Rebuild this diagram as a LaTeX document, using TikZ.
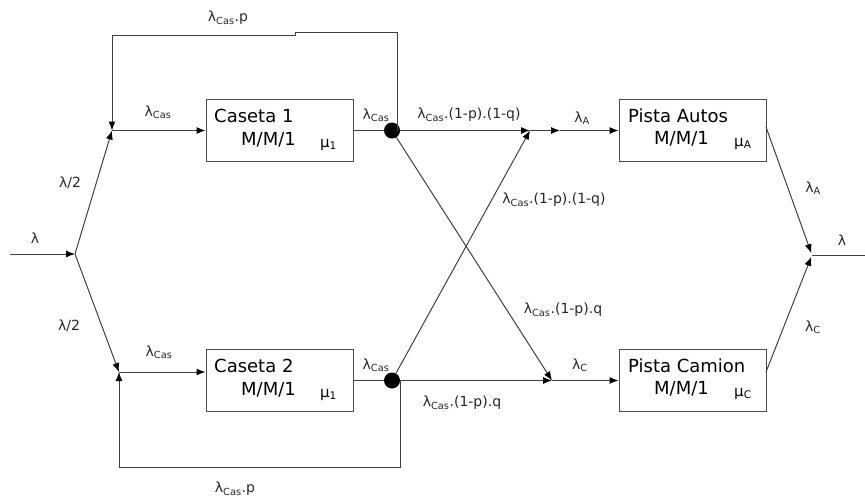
\documentclass[tikz,border=0pt]{standalone}
\usepackage{fontspec}
\setmainfont{DejaVu Sans}
\usetikzlibrary{arrows.meta}
\begin{document}
\begin{tikzpicture}[x=1pt,y=-1pt,
  ln/.style={draw=black!75, line width=1pt},
  arr/.style={ln, -{Latex[length=9pt,width=7pt,color=black]}},
  box/.style={draw=black!70, line width=1pt, minimum width=147pt, minimum height=62pt, inner sep=0pt},
  btxt/.style={font=\fontsize{18}{20}\selectfont, anchor=base west, inner sep=0pt},
  mtxt/.style={font=\fontsize{15}{17}\selectfont, anchor=base west, inner sep=0pt},
  lbl/.style={font=\fontsize{14}{16}\selectfont, inner sep=0pt, text=black!85},
  dotc/.style={circle, fill=black, minimum size=16pt, inner sep=0pt}]
\useasboundingbox (0,0) rectangle (865,499);
% boxes
\node[box] (c1) at (279.5,130.5) {};
\node[box] (c2) at (279.5,380.5) {};
\node[box] (pa) at (692.5,130.5) {};
\node[box] (pc) at (692.5,380.5) {};
% box texts
\node[btxt] (c1t) at (214,122) {Caseta 1};
\node[btxt] (c1m) at (241,145) {M/M/1};
\node[mtxt] (c1u) at (320,147) {μ\textsubscript{1}};
\node[btxt] (c2t) at (214,372) {Caseta 2};
\node[btxt] (c2m) at (241,395) {M/M/1};
\node[mtxt] (c2u) at (320,397) {μ\textsubscript{1}};
\node[btxt] (pat) at (628,122) {Pista Autos};
\node[btxt] (pam) at (654,144) {M/M/1};
\node[mtxt] (pau) at (734,146) {μ\textsubscript{A}};
\node[btxt] (pct) at (628,372) {Pista Camion};
\node[btxt] (pcm) at (654,394) {M/M/1};
\node[mtxt] (pcu) at (734,396) {μ\textsubscript{C}};
% junctions
\coordinate (in) at (10,254);
\coordinate (S) at (75,254);
\coordinate (J1) at (112,130.5);
\coordinate (J2) at (119,372);
\node[dotc] (d1) at (392,130.5) {};
\node[dotc] (d2) at (392,380.5) {};
\coordinate (A1) at (530,130.5);
\coordinate (A2) at (560,130.5);
\coordinate (C1) at (552,380.5);
\coordinate (M) at (812,255);
\coordinate (out) at (865,255);
\coordinate (t1) at (397,32);
\coordinate (t2) at (295,35);
\coordinate (b1) at (400,467);
\coordinate (pa1) at (766,127);
\coordinate (pc1) at (766,372);
% connectors
\draw[arr] (in) -- (S);
\draw[arr] (S) -- (J1);
\draw[arr] (S) -- (J2);
\draw[arr] (J1) -- (c1.west);
\draw[arr] (J2) -- (J2 -| c2.west);
\draw[ln] (c1.east) -- (d1);
\draw[ln] (c2.east) -- (d2);
\draw[arr] (d1.center -| t1) -- (t1) -| (t2) -- (t2 -| J1) -- (J1);
\draw[arr] (d2.center -| b1) -- (b1) -| (J2);
\draw[arr] (d1) -- (A1);
\draw[arr] (A1) -- (A2);
\draw[arr] (A2) -- (pa.west);
\draw[arr] (d1) -- (C1);
\draw[arr] (d2) -- (C1);
\draw[arr] (C1) -- (pc.west);
\draw[arr] (d2) -- (A1);
\draw[arr, shorten >=2pt] (pa1) -- (M);
\draw[arr, shorten >=2pt] (pc1) -- (M);
\draw[ln] (M) -- (out);
% labels
\node[lbl] (l1) at (228,18) {λ\textsubscript{Cas}.p};
\node[lbl] (l2) at (158,112) {λ\textsubscript{Cas}};
\node[lbl] (l3) at (70,183) {λ/2};
\node[lbl] (l4) at (35,238) {λ};
\node[lbl] (l5) at (69,326) {λ/2};
\node[lbl] (l6) at (159,352) {λ\textsubscript{Cas}};
\node[lbl] (l7) at (376,115) {λ\textsubscript{Cas}};
\node[lbl] (l8) at (376,365) {λ\textsubscript{Cas}};
\node[lbl] (l9) at (469,115) {λ\textsubscript{Cas}.(1-p).(1-q)};
\node[lbl] (l10) at (582,118) {λ\textsubscript{A}};
\node[lbl] (l11) at (554,200) {λ\textsubscript{Cas}.(1-p).(1-q)};
\node[lbl] (l12) at (813,188) {λ\textsubscript{A}};
\node[lbl] (l13) at (842,240) {λ};
\node[lbl] (l14) at (563,310) {λ\textsubscript{Cas}.(1-p).q};
\node[lbl] (l15) at (580,365) {λ\textsubscript{C}};
\node[lbl] (l16) at (462,403) {λ\textsubscript{Cas}.(1-p).q};
\node[lbl] (l17) at (813,327) {λ\textsubscript{C}};
\node[lbl] (l18) at (235,489) {λ\textsubscript{Cas}.p};
\end{tikzpicture}
\end{document}
